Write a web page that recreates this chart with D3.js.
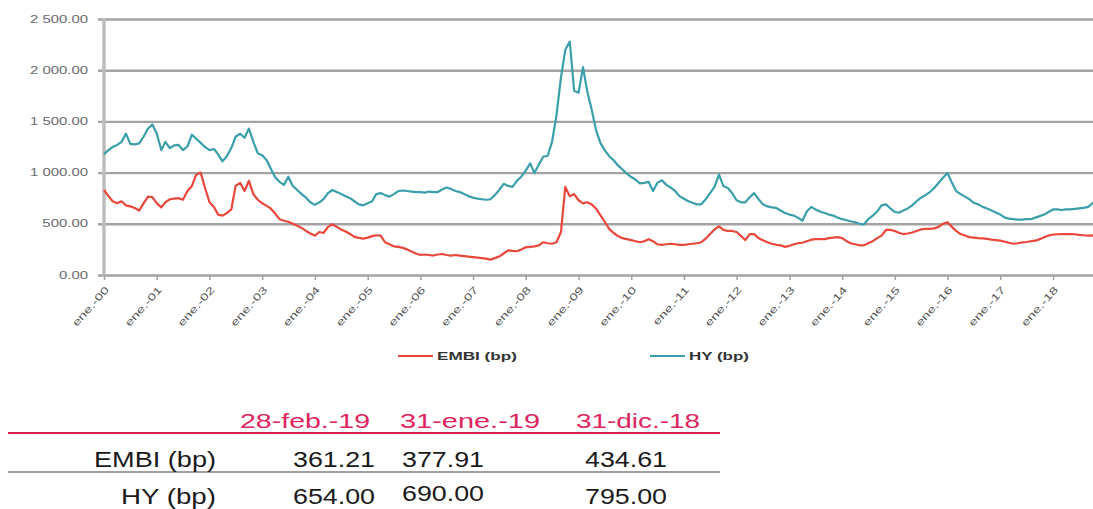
<!DOCTYPE html>
<html><head><meta charset="utf-8">
<script src="https://cdn.jsdelivr.net/npm/d3@7"></script>
<style>
body{margin:0;background:#fff;}
svg{display:block;font-family:"Liberation Sans",Arial,sans-serif;}
</style>
</head><body>
<svg id="c" width="1093" height="509"></svg>
<script>
// ---------- DATA ----------
const months = d3.timeMonth.range(new Date(2000,0,1), new Date(2019,2,1)); // ene-00 .. feb-19

const embi = [
 830,770,720,700,720,680,670,655,630,700,765,760,
 700,660,710,740,745,750,735,820,870,980,1000,850,
 710,665,590,580,605,640,870,900,820,920,790,735,
 700,675,650,600,545,530,520,500,480,460,430,405,
 385,420,410,470,495,470,445,425,400,372,362,355,
 365,380,388,385,320,300,280,275,265,250,230,210,
 195,200,195,190,200,205,195,190,195,190,185,180,
 175,170,165,160,150,165,180,210,240,235,232,250,
 270,275,280,290,320,310,305,320,420,860,770,790,
 730,700,710,690,650,585,520,450,410,380,360,350,
 340,330,320,330,350,330,300,295,300,305,300,295,
 295,300,305,310,320,355,400,445,475,440,430,430,
 420,380,340,400,400,360,340,320,305,295,290,275,
 285,300,310,315,330,345,350,350,350,360,365,370,
 360,330,310,300,290,290,310,330,360,385,440,440,
 430,410,400,405,415,430,445,450,450,455,470,500,
 515,470,430,400,385,370,365,360,357,352,345,340,
 335,325,315,305,310,318,322,330,335,350,368,385,
 395,398,400,400,400,398,392,388,385,385,410,434.61,
 377.91,361.21
];

const hy = [
 1180,1220,1250,1270,1300,1380,1280,1275,1285,1350,1430,1470,
 1380,1220,1300,1240,1265,1270,1220,1255,1370,1330,1290,1250,
 1220,1230,1180,1110,1160,1240,1350,1380,1340,1430,1300,1190,
 1170,1120,1040,955,910,880,960,870,830,790,755,710,
 685,710,740,800,830,810,790,770,750,720,690,680,
 700,720,790,800,780,765,790,820,825,820,815,810,
 810,805,815,810,810,835,855,840,820,810,790,770,
 755,745,740,735,740,780,830,890,870,860,920,960,
 1020,1090,995,1080,1155,1165,1300,1560,1930,2200,2280,1800,
 1780,2030,1800,1620,1420,1290,1220,1160,1120,1070,1030,990,
 957,930,895,900,910,820,900,925,880,855,820,770,
 745,720,705,690,690,740,800,860,980,870,850,800,
 730,710,710,760,800,740,690,670,660,655,630,605,
 590,580,560,530,620,665,640,620,605,590,580,560,
 545,535,525,515,500,495,545,580,620,680,690,650,
 615,610,630,650,680,720,755,780,810,850,900,950,
 996,900,820,790,765,740,705,690,665,650,630,610,
 590,560,550,545,540,540,545,545,560,575,590,615,
 640,640,635,640,640,645,650,655,665,700,740,795,
 690,654
];

const seriesNames = ["EMBI (bp)", "HY (bp)"];
const yTicks = [0, 500, 1000, 1500, 2000, 2500];
const xTickYears = [2000,2001,2002,2003,2004,2005,2006,2007,2008,2009,2010,2011,2012,2013,2014,2015,2016,2017,2018];
const xTickLabels = ["ene.-00","ene.-01","ene.-02","ene.-03","ene.-04","ene.-05","ene.-06","ene.-07","ene.-08","ene.-09",
                     "ene.-10","ene.-11","ene.-12","ene.-13","ene.-14","ene.-15","ene.-16","ene.-17","ene.-18"];

const tableHeaders = ["28-feb.-19", "31-ene.-19", "31-dic.-18"];
const tableRowLabels = ["EMBI (bp)", "HY (bp)"];
const tableEmbi = ["361.21", "377.91", "434.61"];
const tableHy = ["654.00", "690.00", "795.00"];

// ---------- LAYOUT ----------
const svg = d3.select("#c");
const colors = {embi:"#e8473c", hy:"#3a9fab", grid:"#a3a3a3", axis:"#bdbdbd"};

const x = d3.scaleTime()
  .domain([new Date(2000,0,1), new Date(2018,0,1)])
  .range([104, 1053]);
const y = d3.scaleLinear().domain([0, 2500]).range([275, 19]);
const plotRight = x(new Date(2019,4,1));

function stretch(sel, f){
  sel.each(function(){
    const w = this.getComputedTextLength();
    this.setAttribute("textLength", w*f);
    this.setAttribute("lengthAdjust", "spacingAndGlyphs");
  });
}
function setWidth(sel, w){
  sel.attr("textLength", w).attr("lengthAdjust", "spacingAndGlyphs");
}

// gridlines via axis
const yAxis = d3.axisLeft(y).tickValues(yTicks).tickSize(-(plotRight-98)).tickFormat("");
const gy = svg.append("g").attr("transform","translate(98,0)").call(yAxis);
gy.select(".domain").remove();
gy.selectAll(".tick line").attr("stroke", colors.grid).attr("stroke-width", 2.4);

// y labels
const fmt = v => d3.format(",.2f")(v).replace(/,/g, "\u00a0");
svg.append("g").selectAll("text").data(yTicks).join("text")
  .attr("x", 88).attr("y", d => y(d)).attr("dy","0.35em")
  .attr("text-anchor","end").attr("font-size", 10.5).attr("fill","#6a6a72")
  .text(fmt).call(stretch, 1.42);

// y axis line
svg.append("line").attr("x1",104).attr("x2",104).attr("y1",y(2500)).attr("y2",y(0)+1)
  .attr("stroke", colors.axis).attr("stroke-width", 3.5);

// x ticks
const xDates = xTickYears.map(yr => new Date(yr,0,1));
const xAxis = d3.axisBottom(x).tickValues(xDates).tickSize(5).tickFormat("");
const gx = svg.append("g").attr("transform", `translate(0,${y(0)})`).call(xAxis);
gx.select(".domain").remove();
gx.selectAll(".tick line").attr("stroke", colors.grid).attr("stroke-width", 1.5);

// x labels
svg.append("g").selectAll("text").data(xDates).join("text")
  .attr("transform", d => `translate(${x(d)+3},288) rotate(-48)`)
  .attr("text-anchor","end").attr("dy","0.35em")
  .attr("font-size", 10).attr("fill","#555")
  .text((d,i) => xTickLabels[i]).call(stretch, 1.45);

// lines
const line = d3.line().x((d,i) => x(months[i])).y(d => y(d));
svg.append("path").datum(hy).attr("d", line).attr("fill","none")
  .attr("stroke", colors.hy).attr("stroke-width", 2.2).attr("stroke-linejoin","round");
svg.append("path").datum(embi).attr("d", line).attr("fill","none")
  .attr("stroke", colors.embi).attr("stroke-width", 2.2).attr("stroke-linejoin","round");

// legend
const legend = [
  {name: seriesNames[0], c: colors.embi, x: 398, w: 80},
  {name: seriesNames[1], c: colors.hy, x: 650, w: 60}
];
const lg = svg.append("g").selectAll("g").data(legend).join("g")
  .attr("transform", d => `translate(${d.x},356)`);
lg.append("line").attr("x1",0).attr("x2",35).attr("stroke", d=>d.c).attr("stroke-width",2);
lg.append("text").attr("x",39).attr("dy","0.35em").attr("font-size",10.5)
  .attr("font-weight","bold").attr("fill","#333").text(d=>d.name)
  .each(function(d){ d3.select(this).call(setWidth, d.w); });

// ---------- TABLE ----------
const tbl = svg.append("g");
const headerX = [240, 400, 576];
const headerW = [130, 140, 124];
tbl.selectAll("text.h").data(tableHeaders).join("text").attr("class","h")
  .attr("x",(d,i)=>headerX[i]).attr("y",428).attr("font-size",20).attr("fill","#e0245e")
  .text(d=>d).each(function(d,i){ d3.select(this).call(setWidth, headerW[i]); });
tbl.append("line").attr("x1",8).attr("x2",720).attr("y1",433).attr("y2",433)
  .attr("stroke","#d81e50").attr("stroke-width",2);
tbl.append("line").attr("x1",8).attr("x2",720).attr("y1",472).attr("y2",472)
  .attr("stroke","#a0a0a0").attr("stroke-width",2);

const rows = [
  {label: tableRowLabels[0], vals: tableEmbi, yb: [467,467,467], lw: 122},
  {label: tableRowLabels[1], vals: tableHy, yb: [504,501,504], lw: 95}
];
const valX = [375, 402, 585];
const valAnchor = ["end","start","start"];
rows.forEach(r => {
  tbl.append("text").attr("x",216).attr("y",r.yb[0]).attr("text-anchor","end")
    .attr("font-size",21.5).attr("fill","#1a1a1a").text(r.label).call(setWidth, r.lw);
  r.vals.forEach((v,i) => {
    tbl.append("text").attr("x",valX[i]).attr("y",r.yb[i]).attr("text-anchor",valAnchor[i])
      .attr("font-size",21.5).attr("fill","#1a1a1a").text(v).call(setWidth, 82);
  });
});
</script>
</body></html>
